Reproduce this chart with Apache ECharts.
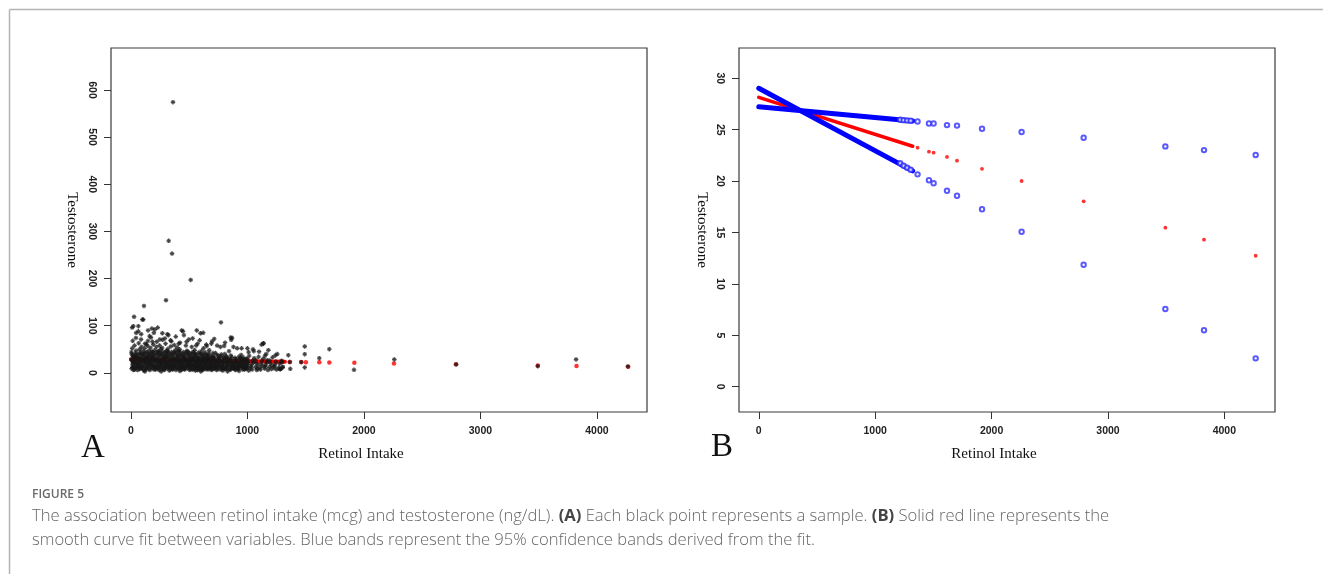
<!DOCTYPE html>
<html>
<head>
<meta charset="utf-8">
<script src="https://cdn.jsdelivr.net/npm/echarts@6/dist/echarts.min.js"></script>
<style>
html,body{margin:0;padding:0;background:#fff;}
#chart{width:1323px;height:574px;}
</style>
</head>
<body>
<div id="chart"></div>
<script>
// ---------- DATA ----------
const xTicks = [0, 1000, 2000, 3000, 4000];
const yTicksA = [0, 100, 200, 300, 400, 500, 600];
const yTicksB = [0, 5, 10, 15, 20, 25, 30];

// Panel A: retinol intake vs testosterone (each sample)
const samplePoints = [
[6,9],[14,18],[9,27],[18,35],[4,44],[21,13],[11,52],[16,23],[24,31],[8,40],
[33,7],[41,15],[29,22],[46,29],[37,38],[44,47],[31,58],[49,11],[36,33],[52,20],
[58,6],[66,17],[72,25],[61,34],[77,41],[69,12],[74,50],[63,29],[80,21],[67,63],
[86,9],[94,16],[101,24],[89,31],[97,39],[104,46],[91,55],[99,13],[87,71],[106,28],
[112,5],[119,19],[126,27],[115,36],[123,43],[129,10],[117,52],[131,32],[121,62],[114,23],
[137,8],[145,15],[152,24],[140,30],[149,40],[155,47],[143,57],[138,35],[151,19],[146,68],
[162,6],[170,13],[177,22],[165,28],[174,37],[181,44],[168,53],[160,18],[179,31],[172,75],
[187,10],[195,17],[202,26],[190,33],[199,41],[205,48],[192,60],[186,22],[204,14],[197,85],
[212,7],[220,14],[227,21],[215,29],[224,38],[230,45],[218,55],[211,25],[229,11],[222,66],
[237,9],[245,18],[252,27],[240,34],[249,42],[255,50],[243,6],[236,23],[254,15],[246,58],
[262,12],[270,20],[277,29],[265,37],[274,45],[281,8],[268,53],[261,25],[279,16],[272,70],
[287,6],[295,15],[302,23],[290,31],[299,40],[305,47],[292,11],[286,36],[304,19],[297,62],
[312,9],[320,17],[327,26],[315,34],[324,43],[330,5],[318,51],[311,21],[329,13],[322,80],
[337,11],[345,19],[352,28],[340,36],[349,44],[355,7],[343,56],[336,24],[354,15],[347,67],
[362,8],[370,16],[377,25],[365,33],[374,41],[381,48],[368,12],[361,29],[379,20],[372,59],
[387,6],[395,14],[402,23],[390,31],[399,38],[405,46],[392,18],[386,27],[404,10],[397,54],
[412,9],[420,17],[427,25],[415,34],[424,42],[430,6],[418,50],[411,21],[429,13],[422,64],
[437,11],[445,19],[452,28],[440,36],[449,44],[455,8],[443,15],[436,24],[454,32],[447,88],
[462,7],[470,15],[477,24],[465,31],[474,39],[481,47],[468,11],[461,27],[479,19],[472,58],
[487,9],[495,17],[502,26],[490,34],[499,42],[505,6],[492,13],[486,22],[504,30],[497,71],
[512,10],[520,18],[527,27],[515,35],[524,43],[530,7],[518,14],[511,23],[529,31],[522,55],
[537,8],[545,16],[552,24],[540,32],[549,40],[555,12],[543,20],[536,28],[554,5],[547,48],
[562,11],[570,19],[577,27],[565,35],[574,9],[581,15],[568,23],[561,31],[579,43],[572,62],
[587,7],[595,14],[602,22],[590,30],[599,38],[605,10],[592,18],[586,26],[604,46],[597,84],
[612,9],[620,17],[627,25],[615,33],[624,12],[630,21],[618,40],[611,6],[629,29],[622,52],
[637,11],[645,19],[652,27],[640,35],[649,8],[655,15],[643,23],[636,44],[654,31],[647,60],
[662,7],[670,14],[677,22],[665,30],[674,10],[681,18],[668,26],[661,38],[679,34],[672,48],
[687,9],[695,17],[702,25],[690,13],[699,21],[705,33],[692,6],[686,29],[704,42],[697,67],
[712,8],[720,16],[727,24],[715,32],[724,12],[731,20],[718,28],[736,6],[739,38],
[747,10],[755,18],[762,26],[750,14],[759,22],[766,7],[753,30],[771,35],[773,107],[768,55],
[782,9],[790,17],[797,25],[785,13],[794,21],[801,31],[788,5],[806,40],[808,64],
[817,11],[825,19],[832,27],[820,8],[829,15],[836,23],[823,33],[842,46],
[852,7],[860,15],[867,23],[855,29],[864,11],[871,19],[858,37],[868,74],[861,70],
[887,10],[895,18],[902,26],[890,14],[899,6],[906,22],[893,32],[912,52],
[922,8],[930,16],[937,24],[925,12],[934,20],[941,30],[928,4],[946,38],
[957,11],[965,19],[972,27],[960,7],[969,15],[976,23],[963,33],[981,9],
[992,9],[1000,17],[1007,25],[995,13],[1004,21],[1011,5],[998,30],[1015,36],
[1027,10],[1036,18],[1044,26],[1031,14],[1040,7],[1052,22],[1058,31],[1048,50],[1055,46],
[1068,12],[1077,20],[1085,9],[1072,27],[1090,16],[1096,34],[1081,6],
[1108,11],[1117,19],[1125,25],[1112,7],[1130,15],[1136,30],[1121,60],[1138,63],
[1148,9],[1157,17],[1165,22],[1152,13],[1170,27],[1176,6],[1161,40],
[1188,12],[1197,20],[1205,8],[1192,26],[1210,15],[1216,33],
[1228,10],[1237,18],[1245,24],[1232,14],[1250,7],[1256,40],
[1268,11],[1277,19],[1285,8],[1290,25],[1297,22],[1280,8],[1303,12],
[27,119],[98,113],[64,99],[112,142],[301,154],[324,280],[353,253],[361,574],[513,197],
[21,99],[106,113],[64,88],[147,90],[230,96],[313,82],[436,90],[565,90],[857,75],[1137,62],
[15,68],[43,74],[88,82],[133,61],[160,78],[185,66],[205,92],[248,71],[270,84],[292,73],
[340,69],[385,77],[410,62],[455,80],[478,66],[530,73],[560,58],[590,69],[620,85],[650,57],
[690,62],[715,72],[740,58],[800,57],[880,55],[950,52],[1010,44],[1100,45],[1180,48],[1240,37],
[1150,36],[1000,52],[10,96],[180,94],[45,85],[120,3],[260,3],[420,4],[600,3],[830,3],
[1297,25],[1303,12],[1280,8],[1351,37.6],[1368,8.5],[1364,23],[1462,22.7],[1492,56],[1492,39.7],
[1492,11.5],[1617,31.2],[1703,50.3],[1915,6.4],[2261,28.4],[2791,17.8],[3492,14.2],[3821,28.4],[4265,13.6],
[12,12],[19,21],[3,29],[15,37],[22,6],[38,10],[43,19],[35,26],[48,35],[40,42],
[63,14],[55,22],[70,31],[60,39],[75,8],[88,11],[83,20],[95,28],[92,36],[81,44],
[113,15],[108,8],[120,31],[111,40],[127,23],[138,12],[133,20],[147,28],[136,44],[152,36],
[163,9],[158,26],[171,33],[166,41],[176,17],[188,14],[183,29],[194,37],[185,45],[199,7],
[213,18],[208,33],[219,42],[214,10],[226,26],[238,13],[233,30],[244,38],[239,46],[250,21],
[263,8],[258,17],[270,33],[264,41],[276,24],[288,19],[283,27],[294,43],[289,10],[300,35],
[313,13],[308,30],[320,38],[315,46],[326,21],[338,16],[333,31],[345,40],[339,8],[351,24],
[363,20],[358,37],[370,44],[364,12],[376,29],[388,10],[383,22],[395,35],[389,42],[401,28],
[413,14],[408,29],[420,38],[414,46],[426,21],[438,17],[433,31],[445,40],[439,9],[451,25],
[463,19],[458,35],[470,43],[464,12],[476,28],[488,14],[483,26],[495,38],[489,45],[501,19],
[513,21],[508,30],[520,39],[514,8],[526,15],[538,12],[533,28],[545,36],[539,44],[551,20],
[563,15],[558,39],[570,6],[564,24],[576,31],[588,11],[583,33],[595,41],[589,19],[601,27],
[613,14],[608,22],[620,36],[614,30],[626,7],[638,17],[633,29],[645,39],[639,12],[651,24],
[663,19],[658,34],[670,42],[664,11],[676,27],[688,14],[683,23],[695,36],[689,30],[701,9],
[713,18],[708,34],[720,11],[714,26],[726,42],[738,14],[733,22],[745,29],[739,9],[751,36],
[763,17],[758,31],[770,12],[764,24],[776,39],[788,21],[783,14],[795,33],[789,27],[801,8],
[813,16],[808,26],[820,35],[814,10],[826,22],[838,12],[833,30],[845,18],[839,24],[851,7],
[863,19],[858,26],[870,9],[864,33],[876,14],[888,22],[883,16],[895,29],[889,8],[901,12],
[913,15],[908,28],[920,20],[914,9],[926,34],[938,18],[933,11],[945,26],[939,32],[951,14],
[963,22],[958,16],[970,11],[964,29],[976,7],[988,14],[983,24],[995,19],[989,30],[1001,11]
];

// Smooth curve fit and 95% confidence bands (dense part read at its two ends)
const fitDense = [[0, 28.15], [1322, 23.4]];
const bandFlatDense = [[0, 27.24], [1322, 25.85]];
const bandSteepDense = [[0, 29.03], [1322, 21.0]];

// Isolated intake values (beyond the dense range) and their fit / band values
const retinolSparse = [1364, 1462, 1502, 1617, 1703, 1918, 2258, 2791, 3493, 3825, 4269];
const fitSparse = [23.25, 22.86, 22.77, 22.35, 21.99, 21.2, 20.01, 18.03, 15.47, 14.3, 12.74];
const bandFlatSparse = [25.8, 25.6, 25.6, 25.45, 25.4, 25.1, 24.78, 24.22, 23.38, 23.02, 22.54];
const bandSteepSparse = [20.66, 20.08, 19.79, 19.07, 18.58, 17.26, 15.08, 11.87, 7.56, 5.49, 2.76];
const bandFlatEnd = [[1215, 25.97], [1245, 25.93], [1275, 25.9], [1305, 25.87]];
const bandSteepEnd = [[1215, 21.75], [1245, 21.5], [1275, 21.3], [1305, 21.1]];

// ---------- CHART ----------
const pair = (xs, ys) => xs.map((x, i) => [x, ys[i]]);
const chart = echarts.init(document.getElementById('chart'), null, {renderer: 'canvas'});

const tickFont = {fontFamily: 'Liberation Sans, Arial, sans-serif', fontWeight: 'bold', fontSize: 10.5, color: '#222',
                  formatter: v => String(v)};
function xAxisDef(idx, min, max) {
  return {
    type: 'value', gridIndex: idx, min: min, max: max,
    splitLine: {show: false},
    axisLine: {show: false, onZero: false},
    axisTick: {show: true, length: 7, lineStyle: {color: '#333', width: 1}, customValues: xTicks},
    axisLabel: Object.assign({margin: 14, customValues: xTicks}, tickFont)
  };
}
function yAxisDef(idx, min, max, ticks) {
  return {
    type: 'value', gridIndex: idx, min: min, max: max,
    splitLine: {show: false},
    axisLine: {show: false, onZero: false},
    axisTick: {show: true, length: 7, lineStyle: {color: '#333', width: 1}, customValues: ticks},
    axisLabel: Object.assign({margin: 14, rotate: -90, customValues: ticks}, tickFont)
  };
}

const asterisk = 'path://M3.5,0H6.5V2.5L8.2,0.8L9.2,1.8L7.5,3.5H10V6.5H7.5L9.2,8.2L8.2,9.2L6.5,7.5V10H3.5V7.5L1.8,9.2L0.8,8.2L2.5,6.5H0V3.5H2.5L0.8,1.8L1.8,0.8L3.5,2.5Z';
const serif = 'Liberation Serif, Times New Roman, serif';
const capFont = '"Open Sans", Lato, sans-serif';

function txt(text, x, y, font, rot, fill) {
  return {
    type: 'text', x: x, y: y, rotation: rot || 0, silent: true,
    style: {text: text, font: font, fill: fill || '#111',
            textAlign: 'center', textVerticalAlign: 'middle', align: 'center', verticalAlign: 'middle'}
  };
}

const blueCircle = {color: '#3030ff', borderColor: '#3030ff', borderWidth: 1.2};

const option = {
  animation: false,
  backgroundColor: '#fff',
  grid: [
    {left: 111, top: 48, width: 536, height: 364, show: true, borderColor: '#3a3a3a', borderWidth: 1.2, backgroundColor: 'transparent'},
    {left: 739, top: 48, width: 536, height: 364, show: true, borderColor: '#3a3a3a', borderWidth: 1.2, backgroundColor: 'transparent'}
  ],
  xAxis: [xAxisDef(0, -171, 4430), xAxisDef(1, -170, 4435)],
  yAxis: [yAxisDef(0, -83, 689, yTicksA), yAxisDef(1, -2.46, 32.95, yTicksB)],
  series: [
    // Panel A
    {type: 'line', xAxisIndex: 0, yAxisIndex: 0, data: fitDense, showSymbol: false, z: 2,
     lineStyle: {color: '#ff0000', width: 4, cap: 'round'}},
    {type: 'scatter', xAxisIndex: 0, yAxisIndex: 0, data: pair(retinolSparse, fitSparse), z: 2,
     symbol: 'circle', symbolSize: 4.5, itemStyle: {color: '#ff0000'}},
    {type: 'scatter', xAxisIndex: 0, yAxisIndex: 0, data: samplePoints, z: 3,
     symbol: asterisk, symbolSize: 4.5, itemStyle: {color: '#161616'}},
    // Panel B
    {type: 'line', xAxisIndex: 1, yAxisIndex: 1, data: fitDense, showSymbol: false, z: 2,
     lineStyle: {color: '#ff0000', width: 3.6, cap: 'round'}},
    {type: 'scatter', xAxisIndex: 1, yAxisIndex: 1, data: pair(retinolSparse, fitSparse), z: 2,
     symbol: 'circle', symbolSize: 3.8, itemStyle: {color: '#ff0000'}},
    {type: 'line', xAxisIndex: 1, yAxisIndex: 1, data: bandFlatDense, showSymbol: false, z: 3,
     lineStyle: {color: '#0000ff', width: 5, cap: 'round'}},
    {type: 'line', xAxisIndex: 1, yAxisIndex: 1, data: bandSteepDense, showSymbol: false, z: 3,
     lineStyle: {color: '#0000ff', width: 5, cap: 'round'}},
    {type: 'scatter', xAxisIndex: 1, yAxisIndex: 1, data: pair(retinolSparse, bandFlatSparse).concat(bandFlatEnd), z: 3,
     symbol: 'emptyCircle', symbolSize: 4.4, itemStyle: blueCircle},
    {type: 'scatter', xAxisIndex: 1, yAxisIndex: 1, data: pair(retinolSparse, bandSteepSparse).concat(bandSteepEnd), z: 3,
     symbol: 'emptyCircle', symbolSize: 4.4, itemStyle: blueCircle}
  ],
  graphic: [
    {type: 'line', shape: {x1: 9.5, y1: 9.5, x2: 1323, y2: 9.5}, style: {stroke: '#b4b4b4', lineWidth: 1.5}, silent: true},
    {type: 'line', shape: {x1: 9.5, y1: 9.5, x2: 9.5, y2: 574}, style: {stroke: '#b4b4b4', lineWidth: 1.5}, silent: true},
    txt('A', 93, 448, '33px ' + serif),
    txt('B', 722, 447, '33px ' + serif),
    txt('Retinol Intake', 361, 454, '15px ' + serif),
    txt('Retinol Intake', 994, 454, '15px ' + serif),
    txt('Testosterone', 71.5, 230, '15px ' + serif, -Math.PI / 2),
    txt('Testosterone', 702, 230, '15px ' + serif, -Math.PI / 2),
    {type: 'text', x: 32, y: 495, silent: true,
     style: {text: 'FIGURE 5', font: '600 12px ' + capFont, fill: '#6a6a6a', textVerticalAlign: 'middle', verticalAlign: 'middle'}},
    {type: 'text', x: 32, y: 516, silent: true,
     style: {text: '{n|The association between retinol intake (mcg) and testosterone (ng/dL). }{b|(A)}{n| Each black point represents a sample. }{b|(B)}{n| Solid red line represents the}',
             textVerticalAlign: 'middle', verticalAlign: 'middle',
             rich: {n: {font: '300 16.6px ' + capFont, fill: '#666', color: '#666'}, b: {font: 'bold 16.6px ' + capFont, fill: '#444', color: '#444'}}}},
    {type: 'text', x: 32, y: 540, silent: true,
     style: {text: 'smooth curve fit between variables. Blue bands represent the 95% confidence bands derived from the fit.',
             font: '300 16.6px ' + capFont, fill: '#666', textVerticalAlign: 'middle', verticalAlign: 'middle'}}
  ]
};
chart.setOption(option);
</script>
</body>
</html>
